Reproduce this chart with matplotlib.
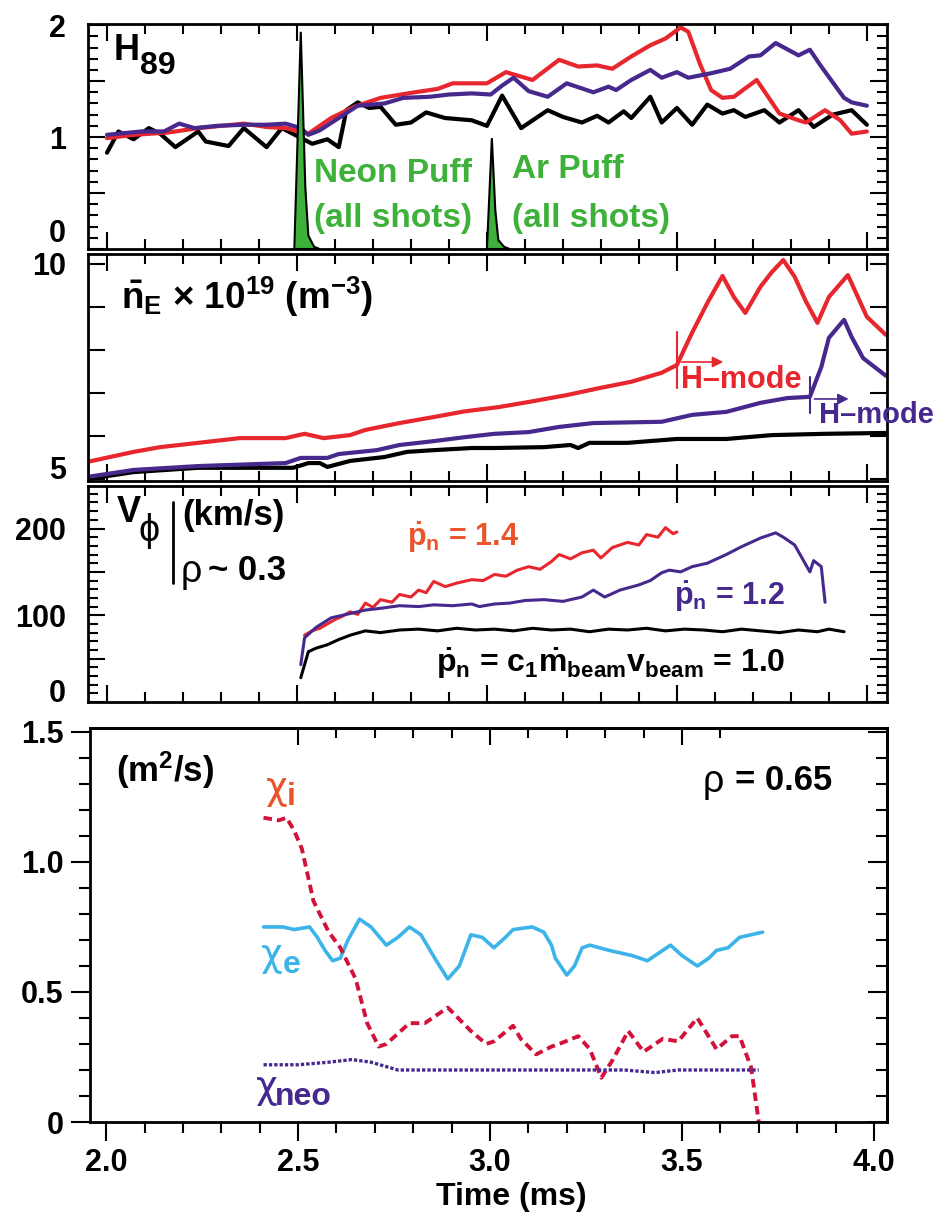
import matplotlib
matplotlib.use("Agg")
import matplotlib.pyplot as plt
from matplotlib.ticker import MultipleLocator
from matplotlib.lines import Line2D

plt.rcParams['font.family'] = ['Liberation Sans', 'DejaVu Sans']
plt.rcParams['font.weight'] = 'bold'
plt.rcParams['mathtext.fontset'] = 'custom'
plt.rcParams['mathtext.rm'] = 'Liberation Sans:bold'
plt.rcParams['mathtext.it'] = 'Liberation Sans:bold'
plt.rcParams['mathtext.bf'] = 'Liberation Sans:bold'
plt.rcParams['mathtext.sf'] = 'Liberation Sans'
plt.rcParams['mathtext.default'] = 'it'
plt.rcParams['lines.solid_joinstyle'] = 'round'
plt.rcParams['lines.solid_capstyle'] = 'round'

RED = '#e8262e'
PURPLE = '#47298e'
GREEN = '#3db13a'
CYAN = '#3db4e9'
CRIMSON = '#d3123b'
ORANGE = '#e9542a'
GREEK = ['Liberation Sans', 'DejaVu Sans']

# ---- H89 confinement factor ----
h89_black_t = [2.00, 2.03, 2.07, 2.11, 2.14, 2.18, 2.24, 2.26, 2.32, 2.36, 2.42, 2.46, 2.50, 2.54, 2.58,
               2.61, 2.63, 2.66, 2.69, 2.72, 2.76, 2.80, 2.84, 2.89, 2.96, 3.00, 3.04, 3.09, 3.16, 3.20,
               3.25, 3.29, 3.32, 3.36, 3.38, 3.43, 3.46, 3.50, 3.54, 3.58, 3.62, 3.65, 3.68, 3.73, 3.77,
               3.82, 3.86, 3.91, 3.96, 4.00]
h89_black = [0.86, 1.05, 0.98, 1.08, 1.03, 0.91, 1.05, 0.96, 0.92, 1.08, 0.91, 1.08, 1.01, 0.94, 0.98,
             0.91, 1.24, 1.31, 1.26, 1.27, 1.11, 1.13, 1.22, 1.17, 1.15, 1.10, 1.37, 1.08, 1.24, 1.18,
             1.13, 1.19, 1.13, 1.23, 1.17, 1.36, 1.13, 1.26, 1.11, 1.29, 1.21, 1.24, 1.18, 1.24, 1.13,
             1.24, 1.09, 1.20, 1.24, 1.11]
h89_red_t = [2.00, 2.07, 2.16, 2.24, 2.36, 2.42, 2.47, 2.53, 2.59, 2.65, 2.72, 2.81, 2.87, 2.91, 2.96,
             3.00, 3.05, 3.12, 3.19, 3.24, 3.29, 3.33, 3.38, 3.43, 3.47, 3.51, 3.53, 3.56, 3.59, 3.62,
             3.65, 3.71, 3.74, 3.77, 3.82, 3.84, 3.89, 3.93, 3.96, 4.00]
h89_red = [0.99, 1.02, 1.04, 1.08, 1.12, 1.09, 1.08, 1.03, 1.17, 1.27, 1.35, 1.40, 1.43, 1.48, 1.48,
           1.48, 1.58, 1.51, 1.69, 1.63, 1.64, 1.61, 1.72, 1.82, 1.88, 1.98, 1.94, 1.66, 1.42, 1.35,
           1.36, 1.51, 1.36, 1.21, 1.15, 1.13, 1.24, 1.15, 1.03, 1.05]
h89_purple_t = [2.00, 2.09, 2.15, 2.19, 2.23, 2.29, 2.36, 2.42, 2.47, 2.51, 2.53, 2.56, 2.61, 2.66, 2.73,
                2.78, 2.85, 2.90, 2.96, 3.01, 3.04, 3.07, 3.11, 3.16, 3.21, 3.28, 3.32, 3.34, 3.38, 3.43,
                3.46, 3.50, 3.53, 3.59, 3.64, 3.69, 3.72, 3.76, 3.82, 3.85, 3.88, 3.94, 3.96, 4.00]
h89_purple = [1.02, 1.05, 1.05, 1.12, 1.08, 1.10, 1.11, 1.11, 1.12, 1.08, 1.02, 1.06, 1.17, 1.28, 1.30,
              1.35, 1.36, 1.38, 1.39, 1.38, 1.46, 1.53, 1.41, 1.36, 1.48, 1.40, 1.45, 1.42, 1.51, 1.60,
              1.53, 1.58, 1.53, 1.57, 1.61, 1.72, 1.73, 1.84, 1.73, 1.78, 1.63, 1.35, 1.31, 1.28]
neon_t = [2.493, 2.510, 2.522, 2.530, 2.545, 2.560]
neon_v = [0.0, 1.94, 0.55, 0.12, 0.02, 0.0]
argon_t = [3.000, 3.013, 3.022, 3.030, 3.045, 3.060]
argon_v = [0.0, 0.99, 0.35, 0.08, 0.02, 0.0]

# ---- line-averaged density (1e19 m^-3) ----
ne_red_t = [1.95, 2.07, 2.14, 2.24, 2.35, 2.47, 2.52, 2.57, 2.64, 2.68, 2.77, 2.86, 2.94, 3.03, 3.11,
            3.21, 3.30, 3.38, 3.46, 3.50, 3.54, 3.58, 3.62, 3.65, 3.68, 3.72, 3.75, 3.78, 3.81, 3.84,
            3.87, 3.90, 3.95, 4.00, 4.05]
ne_red = [5.40, 5.63, 5.74, 5.84, 5.95, 5.95, 6.05, 5.95, 6.02, 6.14, 6.30, 6.44, 6.57, 6.67, 6.79,
          6.95, 7.12, 7.26, 7.47, 7.65, 8.40, 9.09, 9.72, 9.23, 8.86, 9.47, 9.81, 10.09, 9.70, 9.12,
          8.63, 9.23, 9.74, 8.77, 8.35]
ne_purple_t = [1.95, 2.07, 2.24, 2.47, 2.51, 2.58, 2.61, 2.71, 2.77, 2.86, 2.94, 3.02, 3.11, 3.19, 3.28,
               3.46, 3.54, 3.63, 3.72, 3.79, 3.85, 3.88, 3.90, 3.94, 3.96, 3.99, 4.05]
ne_purple = [5.05, 5.21, 5.30, 5.37, 5.49, 5.49, 5.58, 5.67, 5.79, 5.88, 5.97, 6.05, 6.09, 6.21, 6.30,
             6.33, 6.49, 6.56, 6.77, 6.88, 6.91, 7.60, 8.28, 8.70, 8.30, 7.81, 7.40]
ne_black_t = [1.95, 2.07, 2.24, 2.49, 2.53, 2.56, 2.58, 2.64, 2.73, 2.79, 2.86, 2.96, 3.02, 3.15, 3.22,
              3.24, 3.27, 3.37, 3.50, 3.63, 3.75, 3.89, 4.05]
ne_black = [5.00, 5.16, 5.26, 5.26, 5.37, 5.37, 5.28, 5.42, 5.51, 5.63, 5.67, 5.72, 5.72, 5.74, 5.79,
            5.72, 5.84, 5.84, 5.93, 5.93, 6.02, 6.05, 6.07]
hmode_t = [3.50, 3.85]

# ---- toroidal rotation at rho ~ 0.3 (km/s) ----
vphi_red_t = [2.52, 2.54, 2.56, 2.58, 2.60, 2.62, 2.64, 2.66, 2.68, 2.70, 2.72, 2.75, 2.77, 2.80, 2.82,
              2.84, 2.86, 2.89, 2.92, 2.96, 2.99, 3.02, 3.05, 3.08, 3.11, 3.14, 3.17, 3.19, 3.22, 3.25,
              3.28, 3.30, 3.33, 3.37, 3.40, 3.42, 3.45, 3.47, 3.49, 3.50]
vphi_red = [77, 82, 85, 90, 95, 99, 104, 101, 114, 109, 118, 115, 124, 121, 129,
            126, 139, 133, 137, 141, 140, 147, 145, 152, 156, 153, 162, 170, 165, 172,
            175, 166, 178, 184, 181, 193, 190, 201, 194, 196]
vphi_purple_t = [2.51, 2.52, 2.55, 2.59, 2.63, 2.68, 2.72, 2.77, 2.82, 2.86, 2.91, 2.96, 2.98, 3.02, 3.06,
                 3.10, 3.15, 3.20, 3.25, 3.28, 3.31, 3.35, 3.40, 3.43, 3.46, 3.48, 3.51, 3.54, 3.58, 3.63,
                 3.67, 3.72, 3.76, 3.78, 3.81, 3.85, 3.86, 3.88, 3.89]
vphi_purple = [43, 74, 86, 97, 101, 106, 108, 111, 110, 112, 111, 113, 110, 113, 114,
               117, 118, 116, 121, 129, 121, 129, 135, 140, 149, 152, 150, 156, 160, 170,
               179, 189, 195, 190, 181, 150, 163, 156, 115]
vphi_black_t = [2.51, 2.53, 2.55, 2.58, 2.61, 2.64, 2.68, 2.72, 2.77, 2.82, 2.87, 2.92, 2.97, 3.02, 3.07,
                3.12, 3.17, 3.22, 3.27, 3.32, 3.37, 3.42, 3.47, 3.52, 3.57, 3.62, 3.67, 3.72, 3.77, 3.82,
                3.87, 3.90, 3.94]
vphi_black = [28, 58, 62, 66, 72, 77, 82, 80, 83, 84, 82, 85, 83, 84, 82,
              85, 83, 84, 81, 84, 83, 85, 82, 84, 83, 81, 84, 82, 80, 83,
              81, 84, 81]

# ---- diffusivities at rho = 0.65 (m^2/s) ----
chi_e_t = [2.41, 2.46, 2.49, 2.53, 2.55, 2.57, 2.59, 2.61, 2.63, 2.66, 2.69, 2.73, 2.76, 2.79, 2.82,
           2.86, 2.89, 2.92, 2.95, 2.98, 3.01, 3.04, 3.06, 3.11, 3.14, 3.16, 3.17, 3.20, 3.22, 3.24,
           3.26, 3.31, 3.37, 3.41, 3.44, 3.47, 3.50, 3.54, 3.57, 3.59, 3.62, 3.65, 3.68, 3.71]
chi_e = [0.75, 0.75, 0.74, 0.75, 0.71, 0.66, 0.62, 0.63, 0.70, 0.78, 0.75, 0.68, 0.71, 0.75, 0.72,
         0.62, 0.55, 0.60, 0.72, 0.71, 0.67, 0.71, 0.74, 0.75, 0.73, 0.68, 0.63, 0.565, 0.60, 0.67,
         0.68, 0.66, 0.64, 0.62, 0.65, 0.68, 0.64, 0.60, 0.63, 0.66, 0.67, 0.71, 0.72, 0.73]
chi_i_t = [2.41, 2.45, 2.47, 2.49, 2.51, 2.54, 2.58, 2.61, 2.65, 2.68, 2.71, 2.73, 2.79, 2.83, 2.89,
           2.95, 2.99, 3.01, 3.06, 3.08, 3.12, 3.16, 3.18, 3.23, 3.26, 3.29, 3.32, 3.36, 3.40, 3.45,
           3.49, 3.54, 3.59, 3.63, 3.65, 3.68, 3.70]
chi_i = [1.17, 1.16, 1.17, 1.12, 1.05, 0.85, 0.73, 0.67, 0.55, 0.38, 0.29, 0.30, 0.38, 0.38, 0.44,
         0.35, 0.30, 0.31, 0.37, 0.32, 0.26, 0.29, 0.30, 0.33, 0.28, 0.17, 0.24, 0.35, 0.27, 0.32,
         0.31, 0.40, 0.28, 0.33, 0.33, 0.21, 0.0]
chi_neo_t = [2.41, 2.50, 2.58, 2.64, 2.69, 2.76, 3.02, 3.26, 3.35, 3.43, 3.49, 3.70]
chi_neo = [0.22, 0.22, 0.23, 0.24, 0.23, 0.20, 0.20, 0.20, 0.20, 0.19, 0.20, 0.20]

W, H = 936, 1224
fig = plt.figure(figsize=(W / 100, H / 100), dpi=100)


def box(x0, y0, x1, y1):
    return [x0 / W, 1 - y1 / H, (x1 - x0) / W, (y1 - y0) / H]


def at(x, y):
    return x / W, 1 - y / H


def label(x, y, s, size=24, color='black', **kw):
    fig.text(*at(x, y), s, fontsize=size, color=color, ha='left', va='center', **kw)


def greek(x, y, s, size=28, color='black', family=GREEK):
    fig.text(*at(x, y), s, fontsize=size, color=color, ha='left', va='center',
             family=family, fontweight='normal')


ax1 = fig.add_axes(box(88, 24, 887, 249))
ax2 = fig.add_axes(box(88, 254, 887, 481))
ax3 = fig.add_axes(box(88, 486, 887, 702))
ax4 = fig.add_axes(box(90, 728, 887, 1122))

for ax in (ax1, ax2, ax3):
    ax.set_xlim(1.95, 4.053)
    ax.xaxis.set_major_locator(MultipleLocator(0.5))
    ax.xaxis.set_minor_locator(MultipleLocator(0.1))
    ax.tick_params(which='both', direction='in', top=True, right=True, labelbottom=False,
                   width=1.5, labelsize=22, pad=16)
    ax.tick_params(which='major', length=12)
    ax.tick_params(which='minor', length=7)
for ax in (ax1, ax2, ax3, ax4):
    for sp in ax.spines.values():
        sp.set_linewidth(2)

# panel 1
ax1.fill(neon_t, neon_v, color=GREEN, ec='black', lw=1.5, zorder=4)
ax1.fill(argon_t, argon_v, color=GREEN, ec='black', lw=1.5, zorder=4)
ax1.plot(h89_black_t, h89_black, color='black', lw=3)
ax1.plot(h89_red_t, h89_red, color=RED, lw=3)
ax1.plot(h89_purple_t, h89_purple, color=PURPLE, lw=3)
ax1.set_ylim(0, 2.01)
ax1.set_yticks([0, 0.5, 1, 1.5, 2], ['0', '', '1', '', '2'])
ax1.yaxis.set_minor_locator(MultipleLocator(0.1))
ax1.get_yticklabels()[0].set_va('bottom')

# panel 2
ax2.plot(ne_black_t, ne_black, color='black', lw=3)
ax2.plot(ne_purple_t, ne_purple, color=PURPLE, lw=3)
ax2.plot(ne_red_t, ne_red, color=RED, lw=3)
ax2.set_ylim(4.953, 10.23)
ax2.set_yticks([5, 6, 7, 8, 9, 10], ['5', '', '', '', '', '10'])
ax2.get_yticklabels()[0].set_va('baseline')
ax2.get_yticklabels()[-1].set_va('center_baseline')
for t, c, (lo, hi), ya, ay in zip(hmode_t, [RED, PURPLE], [(7.12, 8.42), (6.53, 7.37)],
                                  [7.72, 6.86], [0.11, 0.09]):
    ax2.plot([t, t], [lo, hi], color=c, lw=1.5)
    ax2.annotate('', xy=(t + 0.012 + ay, ya), xytext=(t + 0.012, ya),
                 arrowprops=dict(arrowstyle='-|>', color=c, lw=1.2, mutation_scale=16,
                                 shrinkA=0, shrinkB=0))
ax2.text(3.512, 7.30, 'H–mode', color=RED, fontsize=22, va='center', ha='left')
ax2.text(3.875, 6.49, 'H–mode', color=PURPLE, fontsize=21, va='center', ha='left', clip_on=False)

# panel 3
ax3.plot(vphi_black_t, vphi_black, color='black', lw=2.2)
ax3.plot(vphi_red_t, vphi_red, color=RED, lw=2.2)
ax3.plot(vphi_purple_t, vphi_purple, color=PURPLE, lw=2.2)
ax3.set_ylim(0, 249)
ax3.set_yticks([0, 50, 100, 150, 200], ['0', '', '100', '', '200'])
ax3.yaxis.set_minor_locator(MultipleLocator(10))
ax3.get_yticklabels()[0].set_va('baseline')

# panel 4
ax4.plot(chi_e_t, chi_e, color=CYAN, lw=2.6)
ax4.plot(chi_i_t, chi_i, color=CRIMSON, lw=2.8, dashes=(2.2, 1.3))
ax4.plot(chi_neo_t, chi_neo, color=PURPLE, lw=2.4, dashes=(1.0, 0.6))
ax4.set_xlim(1.958, 4.034)
ax4.set_ylim(0, 1.515)
ax4.set_xticks([2.0, 2.5, 3.0, 3.5, 4.0], ['2.0', '2.5', '3.0', '3.5', '4.0'])
ax4.xaxis.set_minor_locator(MultipleLocator(0.1))
ax4.set_yticks([0, 0.5, 1.0, 1.5], ['0', '0.5', '1.0', '1.5'])
ax4.yaxis.set_minor_locator(MultipleLocator(0.1))
ax4.tick_params(which='both', direction='out', top=False, right=False, width=1.5,
                labelsize=22, pad=5)
ax4.tick_params(which='major', length=14)
ax4.tick_params(which='minor', length=8)
ax4r = ax4.secondary_yaxis('right')
ax4r.set_yticks([0, 0.5, 1.0, 1.5])
ax4r.yaxis.set_minor_locator(MultipleLocator(0.1))
ax4r.tick_params(which='both', direction='in', labelright=False, width=1.5)
ax4r.tick_params(which='major', length=14)
ax4r.tick_params(which='minor', length=8)
ax4t = ax4.secondary_xaxis('top')
ax4t.set_xticks([2.5, 3.0, 3.5])
ax4t.set_xticks([2.6, 2.7, 2.8, 2.9, 3.1, 3.2, 3.3, 3.4, 3.6], minor=True)
ax4t.tick_params(which='both', direction='in', labeltop=False, width=1.5)
ax4t.tick_params(which='major', length=12)
ax4t.tick_params(which='minor', length=7)
for sec in (ax4r, ax4t):
    for sp in sec.spines.values():
        sp.set_linewidth(2)
fig.text(*at(511, 1197), 'Time (ms)', fontsize=23, ha='center', va='center')

# annotations
label(114, 51, 'H', size=26)
label(140, 66, '89', size=23)
label(314, 173, 'Neon Puff', size=24, color=GREEN)
label(314, 218, '(all shots)', size=24, color=GREEN)
label(512, 169, 'Ar Puff', size=24, color=GREEN)
label(512, 218, '(all shots)', size=24, color=GREEN)
label(121, 297, r'$\bar{n}_E$ $\mathsf{\times}$ 10$^{19}$ (m$^{-3}$)', size=26.5)
label(117, 512, 'V', size=26)
greek(139, 531, '\u03d5', size=27)
fig.add_artist(Line2D([173 / W, 173 / W], [1 - 502 / H, 1 - 583 / H], color='black', lw=2))
label(182, 515, '(km/s)', size=25)
greek(181, 572, '\u03c1', size=27)
label(208, 570, '~ 0.3', size=25)
label(407, 538, r'$\dot{p}_n$ = 1.4', size=22, color=ORANGE)
label(674, 597, r'$\dot{p}_n$ = 1.2', size=22, color=PURPLE)
label(436, 664, r'$\dot{p}_n$ = c$_1\dot{m}_{beam}$v$_{beam}$ = 1.0', size=23)
label(116, 770, r'(m$^2$/s)', size=25)
greek(703, 782, '\u03c1', size=27)
label(735, 780, '= 0.65', size=25)
CHI = ['DejaVu Sans']
greek(266, 789, '\u03c7', size=27, color=ORANGE, family=CHI)
label(287, 797, 'i', size=23, color=ORANGE)
greek(261, 956, '\u03c7', size=27, color=CYAN, family=CHI)
label(283, 965, 'e', size=23, color=CYAN)
greek(256, 1088, '\u03c7', size=27, color=PURPLE, family=CHI)
label(275, 1097, 'neo', size=23, color=PURPLE)

fig.savefig('out.png', dpi=100)
